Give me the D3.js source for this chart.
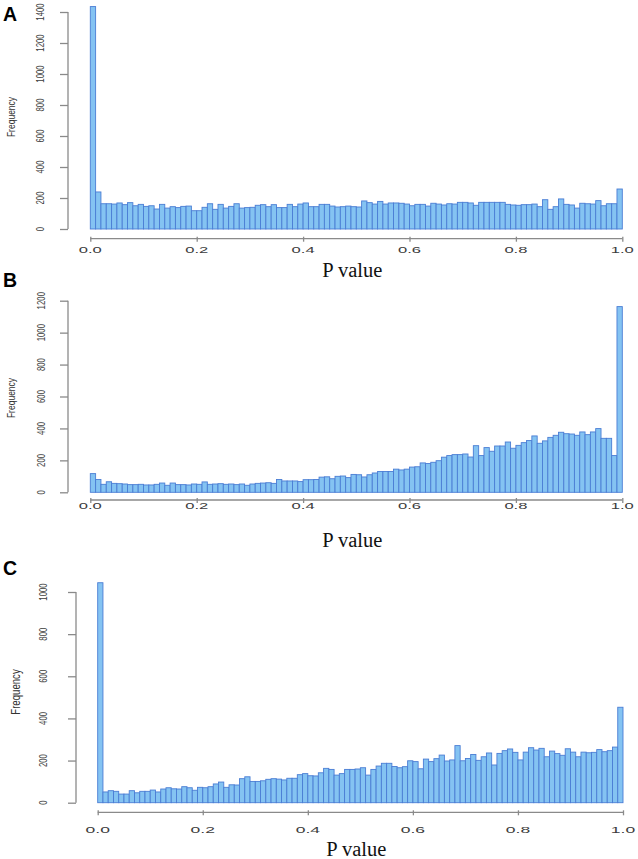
<!DOCTYPE html>
<html>
<head>
<meta charset="utf-8">
<script src="https://cdn.jsdelivr.net/npm/d3@7"></script>
<style>
  html, body { margin: 0; padding: 0; background: #fff; }
  svg { display: block; }
</style>
</head>
<body>
<svg id="chart" width="638" height="859"></svg>
<script>
// ---------------- DATA ----------------
const binWidth = 0.01;            // histogram bin width (100 bins over 0..1)
const panelLetters = ["A", "B", "C"];
const xTicks = [0, 0.2, 0.4, 0.6, 0.8, 1.0];
const xTickLabels = ["0.0", "0.2", "0.4", "0.6", "0.8", "1.0"];
const yTicksA = [0, 200, 400, 600, 800, 1000, 1200, 1400];
const yTicksB = [0, 200, 400, 600, 800, 1000, 1200];
const yTicksC = [0, 200, 400, 600, 800, 1000];
const xLabel = "P value";
const yLabel = "Frequency";

const countsA = [
  1435, 239, 163, 163, 161, 168, 157, 170, 150, 159,
  146, 150, 129, 159, 135, 144, 138, 146, 148, 118,
  118, 140, 163, 127, 159, 135, 146, 163, 135, 138,
  140, 153, 157, 144, 157, 138, 138, 159, 144, 161,
  168, 144, 144, 159, 159, 148, 142, 144, 148, 144,
  142, 181, 170, 161, 178, 161, 168, 168, 166, 161,
  150, 159, 159, 148, 166, 161, 155, 163, 161, 172,
  172, 168, 153, 172, 172, 172, 172, 172, 159, 155,
  153, 157, 157, 161, 144, 189, 127, 144, 194, 159,
  155, 135, 166, 163, 161, 183, 150, 163, 163, 258
];
const countsB = [
  117, 80, 50, 66, 56, 54, 52, 48, 48, 50,
  46, 46, 50, 58, 44, 58, 48, 48, 46, 52,
  50, 65, 50, 52, 54, 50, 52, 48, 52, 44,
  52, 56, 58, 60, 56, 80, 71, 71, 71, 67,
  79, 79, 80, 95, 97, 85, 100, 102, 92, 112,
  110, 96, 110, 121, 130, 130, 130, 145, 140, 145,
  158, 160, 184, 180, 188, 198, 220, 230, 236, 236,
  240, 221, 292, 230, 280, 257, 290, 290, 315, 276,
  294, 311, 324, 353, 307, 322, 344, 357, 376, 367,
  365, 357, 378, 361, 378, 399, 338, 338, 230, 1163
];
const countsC = [
  1044, 51, 57, 54, 41, 41, 57, 47, 54, 54,
  60, 51, 65, 71, 66, 65, 76, 71, 59, 73,
  71, 76, 89, 98, 73, 85, 84, 114, 123, 101,
  101, 104, 111, 114, 112, 108, 116, 116, 133, 138,
  128, 127, 142, 163, 158, 131, 138, 158, 158, 160,
  166, 131, 158, 174, 187, 187, 172, 166, 171, 199,
  195, 161, 207, 195, 209, 226, 198, 203, 271, 199,
  210, 229, 201, 218, 236, 179, 234, 247, 255, 239,
  203, 240, 261, 250, 258, 218, 245, 233, 225, 256,
  240, 218, 240, 237, 239, 252, 242, 247, 264, 453
];

// ---------------- LAYOUT ----------------
const panels = [
  { letter: panelLetters[0], counts: countsA, yTicks: yTicksA,
    x0: 90.3, x1: 622.3, yTop: 12, yBottom: 229, axisX: 68, xAxisY: 238.7,
    yTickLabelX: 44, yLabelX: 14.5, yLabelY: 117, xTickLabelY: 252.5, xLabelY: 277,
    letterX: 3, letterY: 21, tickFont: 8.5, yLabelFont: 11.5 },
  { letter: panelLetters[1], counts: countsB, yTicks: yTicksB,
    x0: 90.3, x1: 622.3, yTop: 300.7, yBottom: 492.3, axisX: 68, xAxisY: 500,
    yTickLabelX: 45, yLabelX: 14.5, yLabelY: 398, xTickLabelY: 509, xLabelY: 547,
    letterX: 3, letterY: 287, tickFont: 8.5, yLabelFont: 11.5 },
  { letter: panelLetters[2], counts: countsC, yTicks: yTicksC,
    x0: 97.7, x1: 623, yTop: 592, yBottom: 802.7, axisX: 76, xAxisY: 812.3,
    yTickLabelX: 47, yLabelX: 20, yLabelY: 692, xTickLabelY: 832.5, xLabelY: 856,
    letterX: 3, letterY: 575, tickFont: 9, yLabelFont: 13 }
];

const svg = d3.select("#chart");
const axisColor = "#8a8a8a";
const textGray = "#3c3c3c";

panels.forEach(p => {
  const yMax = p.yTicks[p.yTicks.length - 1];
  const x = d3.scaleLinear().domain([0, 1]).range([p.x0, p.x1]);
  const y = d3.scaleLinear().domain([0, yMax]).range([p.yBottom, p.yTop]);
  const g = svg.append("g");

  // bars
  g.selectAll("rect.bar")
    .data(p.counts)
    .join("rect")
    .attr("class", "bar")
    .attr("x", (d, i) => x(i * binWidth))
    .attr("width", (d, i) => x((i + 1) * binWidth) - x(i * binWidth))
    .attr("y", d => y(d))
    .attr("height", d => y(0) - y(d))
    .attr("fill", "#84c3f2")
    .attr("stroke", "#4a7dd4")
    .attr("stroke-width", 0.9);

  // y axis (R style, detached)
  const yAxis = d3.axisLeft(y).tickValues(p.yTicks).tickSize(8).tickFormat("");
  const ya = g.append("g").attr("transform", `translate(${p.axisX},0)`).call(yAxis);
  ya.select(".domain").attr("stroke", axisColor).attr("stroke-width", 1.3)
    .attr("d", `M0,${y(p.yTicks[0])}V${y(yMax)}`);
  ya.selectAll(".tick line").attr("stroke", axisColor).attr("stroke-width", 1.3);

  g.selectAll("text.ytick")
    .data(p.yTicks)
    .join("text")
    .attr("class", "ytick")
    .attr("transform", d => `translate(${p.yTickLabelX},${y(d)}) rotate(-90) scale(0.68,1)`)
    .attr("text-anchor", "middle")
    .attr("font-family", "Liberation Sans, Arial, sans-serif")
    .attr("font-size", 11.5)
    .attr("fill", textGray)
    .text(d => d);

  // x axis
  const xAxis = d3.axisBottom(x).tickValues(xTicks).tickSize(4).tickFormat("");
  const xa = g.append("g").attr("transform", `translate(0,${p.xAxisY})`).call(xAxis);
  xa.select(".domain").attr("stroke", axisColor).attr("stroke-width", 1.3)
    .attr("d", `M${x(0)},0H${x(1)}`);
  xa.selectAll(".tick line").attr("stroke", axisColor).attr("stroke-width", 1.3)
    .attr("y1", -2).attr("y2", 3);

  g.selectAll("text.xtick")
    .data(xTicks)
    .join("text")
    .attr("class", "xtick")
    .attr("transform", d => `translate(${x(d)},${p.xTickLabelY}) scale(1.95,1)`)
    .attr("text-anchor", "middle")
    .attr("font-family", "Liberation Sans, Arial, sans-serif")
    .attr("font-size", p.tickFont)
    .attr("fill", textGray)
    .text((d, i) => xTickLabels[i]);

  // axis titles
  g.append("text")
    .attr("transform", `translate(${p.yLabelX},${p.yLabelY}) rotate(-90) scale(0.74,1)`)
    .attr("text-anchor", "middle")
    .attr("font-family", "Liberation Sans, Arial, sans-serif")
    .attr("font-size", p.yLabelFont)
    .attr("fill", "#333")
    .text(yLabel);

  g.append("text")
    .attr("x", (p.x0 + p.x1) / 2 - 4)
    .attr("y", p.xLabelY)
    .attr("text-anchor", "middle")
    .attr("font-family", "Liberation Serif, 'Times New Roman', serif")
    .attr("font-size", 20.5)
    .attr("fill", "#111")
    .text(xLabel);

  // panel letter
  g.append("text")
    .attr("x", p.letterX)
    .attr("y", p.letterY)
    .attr("font-family", "Liberation Sans, Arial, sans-serif")
    .attr("font-weight", "bold")
    .attr("font-size", 19.5)
    .attr("fill", "#000")
    .text(p.letter);
});
</script>
</body>
</html>
